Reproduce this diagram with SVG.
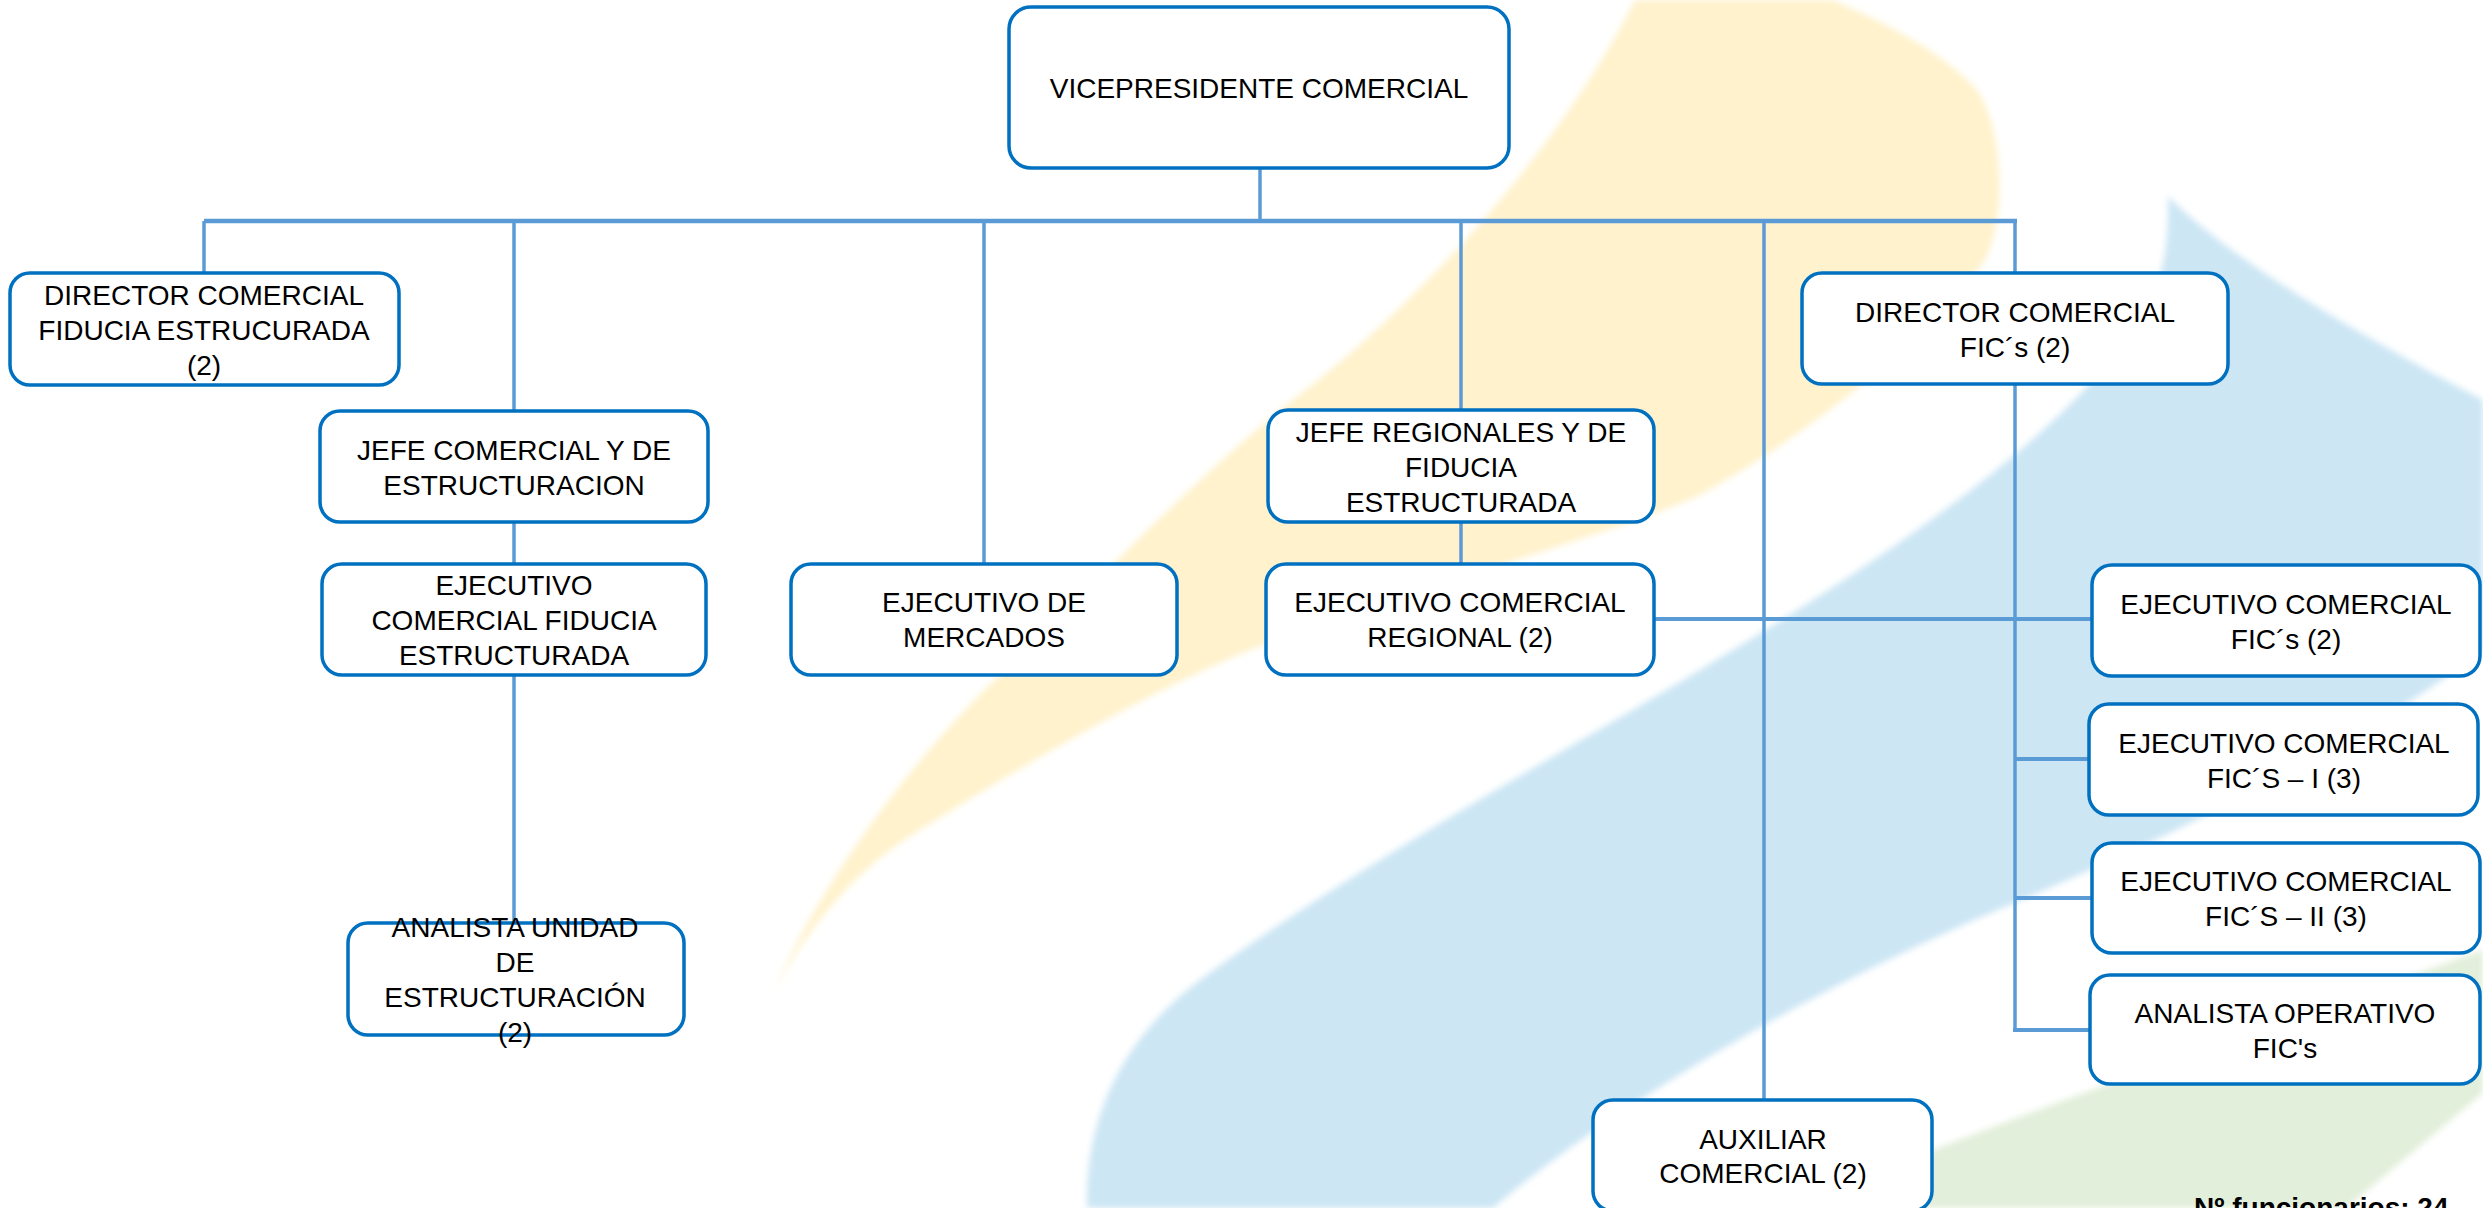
<svg xmlns="http://www.w3.org/2000/svg" width="2483" height="1208" viewBox="0 0 2483 1208">
<defs>
<style>
.box{fill:#FFFFFF;stroke:#0070C0;stroke-width:3.5}
.lbl{font-family:"Liberation Sans",Arial,sans-serif;font-size:28px;fill:#000000;text-anchor:middle}
.cn{stroke:#5B9BD5;stroke-width:3.5;fill:none}
.bus{stroke:#5B9BD5;stroke-width:4.5;fill:none}
.br{stroke:#5B9BD5;stroke-width:4;fill:none}
.note{font-family:"Liberation Sans",Arial,sans-serif;font-size:28px;font-weight:bold;fill:#000000}
</style>
<filter id="soft" x="-5%" y="-5%" width="110%" height="110%"><feGaussianBlur stdDeviation="3"/></filter>
</defs>
<rect x="0" y="0" width="2483" height="1208" fill="#FFFFFF"/>
<g id="background" filter="url(#soft)">
<path fill="#FFF2CC" d="M 1635,0 C 1560,150 1420,300 1312,385 C 1200,470 1090,590 1000,675 C 920,750 820,880 774,993 C 795,950 840,880 912,835 C 1000,780 1130,700 1243,653 C 1400,590 1600,540 1700,495 C 1800,440 1930,340 1985,260 C 2010,210 2000,120 1976,89 C 1940,50 1880,20 1832,0 Z"/>
<path fill="#CCE6F4" d="M 2168,196 C 2220,250 2330,320 2483,400 L 2483,650 C 2380,730 2200,825 2000,909 C 1820,985 1620,1100 1493,1208 L 1087,1208 C 1085,1120 1120,1040 1200,980 C 1350,870 1550,760 1700,670 C 1900,550 2090,420 2150,300 C 2170,260 2168,220 2168,196 Z"/>
<path fill="#E2EFDA" d="M 1800,1208 L 1933,1150 C 2100,1085 2300,1015 2483,950 L 2483,1093 L 2346,1208 Z"/>
</g>
<g id="connectors">
<line class="cn" x1="1260" y1="168" x2="1260" y2="222"/>
<line class="bus" x1="204" y1="221" x2="2017" y2="221"/>
<line class="cn" x1="204" y1="221" x2="204" y2="273"/>
<line class="cn" x1="514" y1="221" x2="514" y2="411"/>
<line class="cn" x1="514" y1="522" x2="514" y2="564"/>
<line class="cn" x1="514" y1="675" x2="514" y2="923"/>
<line class="cn" x1="984" y1="221" x2="984" y2="564"/>
<line class="cn" x1="1461" y1="221" x2="1461" y2="410"/>
<line class="cn" x1="1461" y1="522" x2="1461" y2="564"/>
<line class="cn" x1="1764" y1="221" x2="1764" y2="1100"/>
<line class="cn" x1="2015" y1="221" x2="2015" y2="273"/>
<line class="cn" x1="2015" y1="384" x2="2015" y2="1032"/>
<line class="br" x1="1654" y1="619" x2="2092" y2="619"/>
<line class="br" x1="2015" y1="759" x2="2089" y2="759"/>
<line class="br" x1="2015" y1="898" x2="2092" y2="898"/>
<line class="br" x1="2013" y1="1030" x2="2090" y2="1030"/>
</g>
<g id="n-vp">
<rect class="box" x="1009" y="7" width="500" height="161" rx="22"/>
<text class="lbl" x="1259" y="98">VICEPRESIDENTE COMERCIAL</text>
</g>
<g id="n-dir-fiducia">
<rect class="box" x="10" y="273" width="389" height="112" rx="20"/>
<text class="lbl" x="204" y="305">DIRECTOR COMERCIAL</text>
<text class="lbl" x="204" y="340">FIDUCIA ESTRUCURADA</text>
<text class="lbl" x="204" y="375">(2)</text>
</g>
<g id="n-jefe-comercial">
<rect class="box" x="320" y="411" width="388" height="111" rx="20"/>
<text class="lbl" x="514" y="460">JEFE COMERCIAL Y DE</text>
<text class="lbl" x="514" y="495">ESTRUCTURACION</text>
</g>
<g id="n-ejec-fiducia">
<rect class="box" x="322" y="564" width="384" height="111" rx="20"/>
<text class="lbl" x="514" y="595">EJECUTIVO</text>
<text class="lbl" x="514" y="630">COMERCIAL FIDUCIA</text>
<text class="lbl" x="514" y="665">ESTRUCTURADA</text>
</g>
<g id="n-analista-unidad">
<rect class="box" x="348" y="923" width="336" height="112" rx="20"/>
<text class="lbl" x="515" y="937">ANALISTA UNIDAD</text>
<text class="lbl" x="515" y="972">DE</text>
<text class="lbl" x="515" y="1007">ESTRUCTURACIÓN</text>
<text class="lbl" x="515" y="1042">(2)</text>
</g>
<g id="n-mercados">
<rect class="box" x="791" y="564" width="386" height="111" rx="20"/>
<text class="lbl" x="984" y="612">EJECUTIVO DE</text>
<text class="lbl" x="984" y="647">MERCADOS</text>
</g>
<g id="n-jefe-regionales">
<rect class="box" x="1268" y="410" width="386" height="112" rx="20"/>
<text class="lbl" x="1461" y="442">JEFE REGIONALES Y DE</text>
<text class="lbl" x="1461" y="477">FIDUCIA</text>
<text class="lbl" x="1461" y="512">ESTRUCTURADA</text>
</g>
<g id="n-ejec-regional">
<rect class="box" x="1266" y="564" width="388" height="111" rx="20"/>
<text class="lbl" x="1460" y="612">EJECUTIVO COMERCIAL</text>
<text class="lbl" x="1460" y="647">REGIONAL (2)</text>
</g>
<g id="n-auxiliar">
<rect class="box" x="1593" y="1100" width="339" height="111" rx="20"/>
<text class="lbl" x="1763" y="1149">AUXILIAR</text>
<text class="lbl" x="1763" y="1183">COMERCIAL (2)</text>
</g>
<g id="n-dir-fics">
<rect class="box" x="1802" y="273" width="426" height="111" rx="20"/>
<text class="lbl" x="2015" y="322">DIRECTOR COMERCIAL</text>
<text class="lbl" x="2015" y="357">FIC´s (2)</text>
</g>
<g id="n-ejec-fics">
<rect class="box" x="2092" y="565" width="388" height="111" rx="20"/>
<text class="lbl" x="2286" y="614">EJECUTIVO COMERCIAL</text>
<text class="lbl" x="2286" y="649">FIC´s (2)</text>
</g>
<g id="n-ejec-fics-i">
<rect class="box" x="2089" y="704" width="389" height="111" rx="20"/>
<text class="lbl" x="2284" y="753">EJECUTIVO COMERCIAL</text>
<text class="lbl" x="2284" y="788">FIC´S – I (3)</text>
</g>
<g id="n-ejec-fics-ii">
<rect class="box" x="2092" y="843" width="388" height="110" rx="20"/>
<text class="lbl" x="2286" y="891">EJECUTIVO COMERCIAL</text>
<text class="lbl" x="2286" y="926">FIC´S – II (3)</text>
</g>
<g id="n-analista-operativo">
<rect class="box" x="2090" y="975" width="390" height="109" rx="20"/>
<text class="lbl" x="2285" y="1023">ANALISTA OPERATIVO</text>
<text class="lbl" x="2285" y="1058">FIC's</text>
</g>
<text class="note" x="2194" y="1217">Nº funcionarios: 24</text>
</svg>
